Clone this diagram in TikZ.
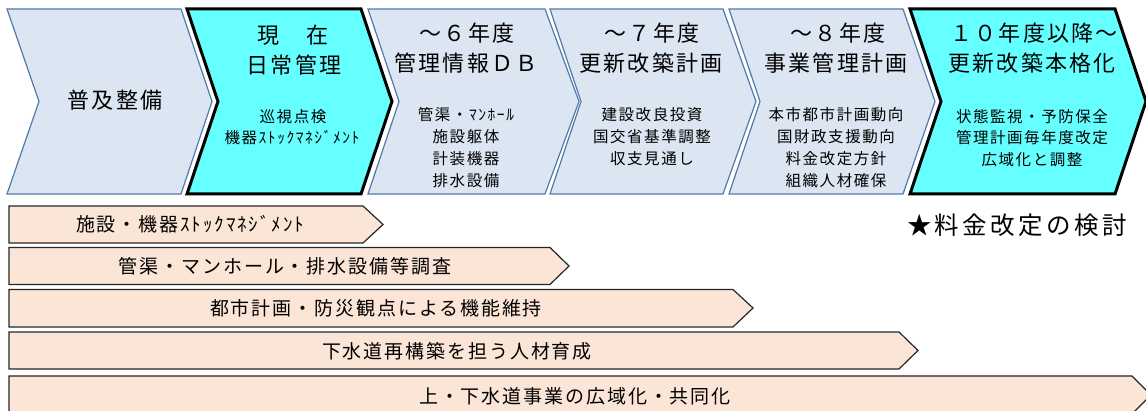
\documentclass[tikz,border=0pt]{standalone}
\usepackage{fontspec}
\setmainfont{Noto Sans CJK JP}
\newfontfamily\jpls{Noto Sans CJK JP}[LetterSpace=10]
\newfontfamily\jpwide{Noto Sans CJK JP}[LetterSpace=14]
\definecolor{chevfill}{HTML}{DCE6F2}
\definecolor{chevline}{HTML}{4F7AAB}
\definecolor{hifill}{HTML}{66FFFF}
\definecolor{barfill}{HTML}{FBE5D6}
\newcommand\mkchev[6]{% style, L, R, tip, notch, (unused)
  \draw[#1] (#2,9) -- (#3,9) -- (#4,101.5) -- (#3,194) -- (#2,194) -- (#5,101.5) -- cycle;}
\newcommand\mkbar[5]{% top, bottom, R, tip, mid
  \draw[barshape] (9,#1) -- (#3,#1) -- (#4,#5) -- (#3,#2) -- (9,#2) -- cycle;}
\tikzset{
  chevlight/.style={fill=chevfill,draw=chevline,line width=1.2pt,line join=miter},
  chevhi/.style={fill=hifill,draw=black,line width=3pt,line join=miter},
  barshape/.style={fill=barfill,draw=black!85,line width=1.2pt,line join=miter},
  ttl/.style={inner sep=0pt,font=\jpls\fontsize{22}{26}\selectfont},
  sub/.style={inner sep=0pt,font=\jpls\fontsize{15.5}{18}\selectfont},
  bartxt/.style={inner sep=0pt,font=\jpls\fontsize{19}{22}\selectfont},
  star/.style={inner sep=0pt,font=\jpwide\fontsize{24.5}{28}\selectfont},
}
\begin{document}
\begin{tikzpicture}[x=1pt,y=-1pt]
\useasboundingbox (0,0) rectangle (1146,411);
\clip (0,0) rectangle (1146,411);
% chevrons
\mkchev{chevlight}{7}{181}{212}{39}{}
\mkchev{chevlight}{368}{545}{579}{399}{}
\mkchev{chevlight}{550}{723}{756}{581}{}
\mkchev{chevlight}{729}{903}{935}{760}{}
\mkchev{chevhi}{187}{361}{392}{218}{}
\mkchev{chevhi}{910}{1115}{1146}{941}{}
% chevron texts
\node[ttl] (c1) at (115,100) {普及整備};
\node[ttl] (c2a) at (293,35) {現　在};
\node[ttl] (c2b) at (294,65) {日常管理};
\node[sub] (c2c) at (293,117) {巡視点検};
\node[sub] (c2d) at (292,138) {機器ｽﾄｯｸﾏﾈｼﾞﾒﾝﾄ};
\node[ttl] (c3a) at (467,33) {～６年度};
\node[ttl] (c3b) at (466,63) {管理情報ＤＢ};
\node[sub] (c3c) at (466,115) {管渠・ﾏﾝﾎｰﾙ};
\node[sub] (c3d) at (466,137) {施設躯体};
\node[sub] (c3e) at (466,159) {計装機器};
\node[sub] (c3f) at (466,181) {排水設備};
\node[ttl] (c4a) at (652,33) {～７年度};
\node[ttl] (c4b) at (651,63) {更新改築計画};
\node[sub] (c4c) at (652,115) {建設改良投資};
\node[sub] (c4d) at (652,137) {国交省基準調整};
\node[sub] (c4e) at (652,159) {収支見通し};
\node[ttl] (c5a) at (838,33) {～８年度};
\node[ttl] (c5b) at (836,63) {事業管理計画};
\node[sub] (c5c) at (836,115) {本市都市計画動向};
\node[sub] (c5d) at (836,137) {国財政支援動向};
\node[sub] (c5e) at (836,159) {料金改定方針};
\node[sub] (c5f) at (836,181) {組織人材確保};
\node[ttl] (c6a) at (1034,33) {１０年度以降～};
\node[ttl] (c6b) at (1032,63) {更新改築本格化};
\node[sub] (c6c) at (1032,117) {状態監視・予防保全};
\node[sub] (c6d) at (1032,138) {管理計画毎年度改定};
\node[sub] (c6e) at (1032,160) {広域化と調整};
\node[star] (st) at (1017,225) {★料金改定の検討};
% bars
\mkbar{206}{243}{363}{383}{224.5}
\mkbar{247.5}{284.5}{550}{569}{266}
\mkbar{289.5}{327}{733}{753}{308}
\mkbar{332}{369}{899}{918}{350.5}
\mkbar{376}{414}{1132}{1151}{395}
\node[bartxt] (b1) at (190,224.5) {施設・機器ｽﾄｯｸﾏﾈｼﾞﾒﾝﾄ};
\node[bartxt] (b2) at (285,266) {管渠・マンホール・排水設備等調査};
\node[bartxt] (b3) at (376,308) {都市計画・防災観点による機能維持};
\node[bartxt] (b4) at (457,351) {下水道再構築を担う人材育成};
\node[bartxt] (b5) at (575,396) {上・下水道事業の広域化・共同化};
\end{tikzpicture}
\end{document}
